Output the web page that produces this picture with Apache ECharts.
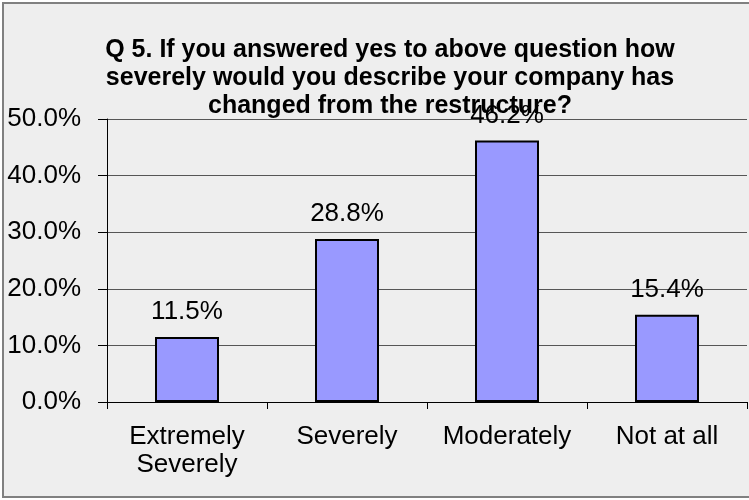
<!DOCTYPE html>
<html>
<head>
<meta charset="utf-8">
<script src="https://cdn.jsdelivr.net/npm/echarts@6/dist/echarts.min.js"></script>
<style>html,body{margin:0;padding:0;background:#fff}#c{width:749px;height:500px}</style>
</head>
<body>
<div id="c"></div>
<script>
var categories = ["Extremely\nSeverely", "Severely", "Moderately", "Not at all"];
var values = [11.5, 28.8, 46.2, 15.4];
var yTicks = { min: 0, max: 50, interval: 10 };
var titleText = "Q 5. If you answered yes to above question how\nseverely would you describe your company has\nchanged from the restructure?";

var chart = echarts.init(document.getElementById('c'), null, { renderer: 'canvas' });
var FONT = '"Liberation Sans", Arial, sans-serif';
chart.setOption({
  backgroundColor: '#ffffff',
  animation: false,
  graphic: [{
    type: 'rect', z: -10, silent: true,
    shape: { x: 3, y: 3, width: 748, height: 494 },
    style: { fill: '#eeeeee', stroke: '#808080', lineWidth: 2 }
  }],
  title: {
    text: titleText,
    left: 385, top: 31, textAlign: 'center',
    textStyle: { fontFamily: FONT, fontSize: 25, fontWeight: 'bold', color: '#000', lineHeight: 28 }
  },
  grid: { left: 107, right: 2, top: 119, bottom: 98, containLabel: false },
  xAxis: {
    type: 'category', data: categories,
    axisLine: { lineStyle: { color: '#000', width: 1 } },
    axisTick: { show: true, length: 7, lineStyle: { color: '#000' }, alignWithLabel: false },
    axisLabel: { fontFamily: FONT, fontSize: 26, color: '#000', margin: 21, lineHeight: 28, interval: 0 }
  },
  yAxis: {
    type: 'value', min: yTicks.min, max: yTicks.max, interval: yTicks.interval,
    axisLine: { show: true, lineStyle: { color: '#000', width: 1 } },
    axisTick: { show: true, length: 9, lineStyle: { color: '#000' } },
    splitLine: { show: true, lineStyle: { color: '#555', width: 1 } },
    axisLabel: { fontFamily: FONT, fontSize: 26, color: '#000', margin: 26,
      formatter: function (v) { return v.toFixed(1) + '%'; } }
  },
  series: [{
    type: 'bar', data: values, barWidth: '40%',
    itemStyle: { color: '#9999ff', borderColor: '#000', borderWidth: 2 },
    label: { show: true, position: 'top', distance: 12, fontFamily: FONT, fontSize: 26, color: '#000',
      formatter: function (p) { return p.value.toFixed(1) + '%'; } }
  }]
});
</script>
</body>
</html>
